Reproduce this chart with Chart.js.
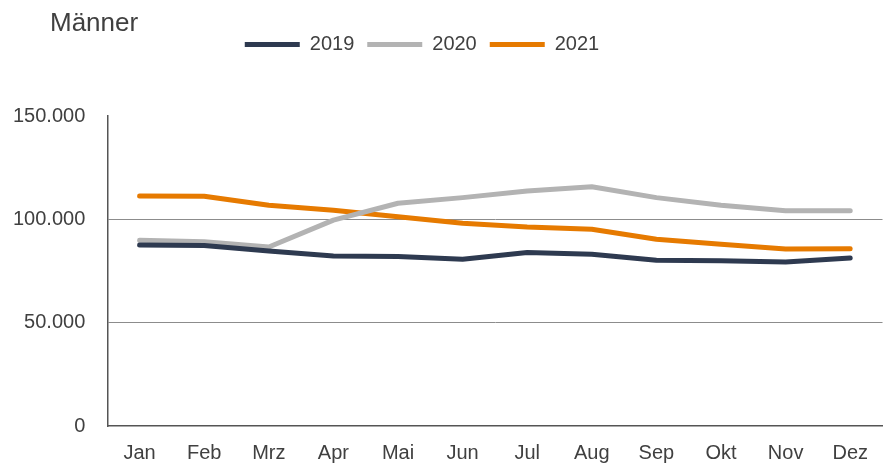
<!DOCTYPE html>
<html>
<head>
<meta charset="utf-8">
<script src="https://cdn.jsdelivr.net/npm/chart.js@4"></script>
<style>
html,body{margin:0;padding:0;background:#fff;}
#wrap{width:883px;height:464px;}
</style>
</head>
<body>
<div id="wrap"><canvas id="c"></canvas></div>
<script>
const months = ["Jan","Feb","Mrz","Apr","Mai","Jun","Jul","Aug","Sep","Okt","Nov","Dez"];
const seriesNames = ["2019","2020","2021"];
const values2019 = [87600, 87300, 84700, 82300, 82000, 80700, 83900, 83100, 80200, 79900, 79400, 81300];
const values2020 = [89900, 89100, 86600, 99600, 107800, 110500, 113700, 115800, 110500, 106800, 104100, 104100];
const values2021 = [111300, 111200, 106800, 104400, 101300, 98100, 96300, 95200, 90400, 87900, 85700, 85800];
const yTicks = [0, 50000, 100000, 150000];
const titleText = "Männer";

const colors = ["#2E3A50", "#B3B3B3", "#E67A00"];
const FONT = "'Liberation Sans', Arial, sans-serif";
const TXT = "#404040";

const shiftPlugin = {
  id: 'shift',
  beforeInit(chart) {
    const lg = chart.legend;
    if (lg) {
      const orig = lg.fit;
      lg.fit = function () { orig.call(this); this.height += 51.5; };
    }
  },
  afterLayout(chart) {
    if (chart.titleBlock) { chart.titleBlock.left += 59; }
    if (chart.legend) { chart.legend.left -= 30; }
  }
};

new Chart(document.getElementById('c'), {
  type: 'line',
  data: {
    labels: months,
    datasets: [values2019, values2020, values2021].map((v, i) => ({
      label: seriesNames[i],
      data: v,
      borderColor: colors[i],
      backgroundColor: colors[i],
      borderWidth: 5,
      borderCapStyle: 'round',
      borderJoinStyle: 'round',
      pointRadius: 0,
      pointHoverRadius: 0,
      tension: 0,
      fill: false
    }))
  },
  options: {
    responsive: true,
    maintainAspectRatio: false,
    animation: false,
    devicePixelRatio: 1,
    layout: { padding: { left: -9, right: 0, top: 0, bottom: -16 } },
    plugins: {
      title: {
        display: true,
        text: titleText,
        align: 'start',
        color: TXT,
        font: { family: FONT, size: 26, weight: 'normal', lineHeight: 1 },
        padding: { top: 11, bottom: -15.5 }
      },
      legend: {
        display: true,
        position: 'top',
        align: 'center',
        labels: {
          usePointStyle: true,
          pointStyle: 'line',
          pointStyleWidth: 55,
          boxWidth: 55,
          boxHeight: 5,
          color: TXT,
          font: { family: FONT, size: 20 },
          padding: 13
        }
      },
      tooltip: { enabled: false }
    },
    scales: {
      x: {
        offset: true,
        grid: { display: false, drawTicks: false },
        border: { display: true, color: '#555555', width: 1.5 },
        ticks: { color: TXT, font: { family: FONT, size: 20 }, padding: 15, maxRotation: 0 }
      },
      y: {
        min: 0,
        max: 150000,
        afterBuildTicks(scale) { scale.ticks = yTicks.map(v => ({ value: v })); },
        grid: {
          drawTicks: false,
          color: ctx => (ctx.tick && (ctx.tick.value === 50000 || ctx.tick.value === 100000)) ? '#8C8C8C' : 'rgba(0,0,0,0)',
          lineWidth: 1
        },
        border: { display: true, color: '#555555', width: 1.5 },
        ticks: {
          color: TXT,
          font: { family: FONT, size: 20 },
          padding: 22,
          callback: v => Number(v).toLocaleString('de-DE')
        }
      }
    }
  },
  plugins: [shiftPlugin]
});
</script>
</body>
</html>
